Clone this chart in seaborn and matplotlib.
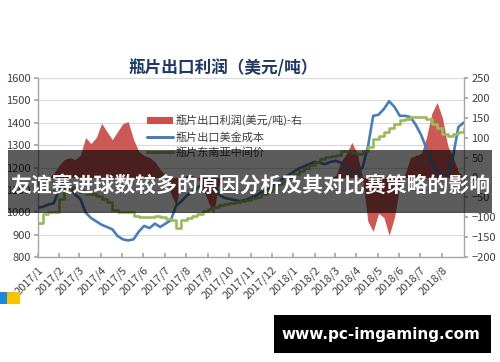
import numpy as np
import pandas as pd
import matplotlib
matplotlib.use("Agg")
import matplotlib.pyplot as plt
from matplotlib.patches import Rectangle, Patch
from matplotlib.lines import Line2D
import seaborn as sns

# ---------------- data ----------------
dates = pd.date_range("2017-01-01", "2018-09-01", periods=81)

cost_usd = [1020, 1025, 1035, 1040, 1100, 1136, 1120, 1080, 1060, 1000,
            975, 960, 945, 935, 925, 895, 880, 875, 880, 915,
            940, 930, 950, 935, 950, 965, 1030, 1050, 1075, 1090,
            1110, 1125, 1140, 1134, 1080, 1065, 1060, 1055, 1050, 1055,
            1065, 1075, 1090, 1100, 1115, 1130, 1150, 1165, 1180, 1195,
            1205, 1215, 1225, 1220, 1215, 1225, 1230, 1220, 1185, 1175,
            1180, 1200, 1290, 1430, 1435, 1460, 1495, 1470, 1430, 1430,
            1425, 1390, 1345, 1285, 1220, 1180, 1150, 1170, 1250, 1380, 1400]

sea_price = [955, 995, 1000, 1000, 1060, 1110, 1115, 1100, 1090, 1080,
             1080, 1075, 1060, 1045, 1010, 1000, 1000, 1000, 985, 978,
             978, 980, 985, 980, 970, 965, 930, 965, 975, 985,
             995, 1005, 1015, 1025, 1032, 1038, 1042, 1045, 1050, 1055,
             1062, 1068, 1080, 1095, 1110, 1125, 1140, 1155, 1170, 1185,
             1200, 1212, 1225, 1240, 1245, 1250, 1255, 1275, 1275, 1265,
             1260, 1275, 1290, 1325, 1340, 1357, 1375, 1395, 1410, 1418,
             1424, 1424, 1424, 1415, 1395, 1375, 1350, 1340, 1350, 1357, 1375]

profit = [0, 0, 0, 10, 30, 45, 50, 45, 55, 100,
          85, 100, 136, 115, 95, 115, 135, 140, 95, 65,
          55, 50, 40, 20, 5, -40, -70, 0, 5, 5,
          0, -25, -60, -90, -20, 0, 0, 0, 0, 0,
          0, 0, 0, 0, 0, 0, 0, 0, 0, 0,
          0, 0, 0, 0, 0, 0, 5, 40, 60, 88,
          60, 0, -110, -135, -90, -100, -145, -100, -20, 10,
          50, 55, 60, 100, 160, 188, 150, 80, 50, 15, 0]

month_ticks = pd.date_range("2017-01-01", "2018-08-01", freq="MS")
month_labels = ["2017/1", "2017/2", "2017/3", "2017/4", "2017/5", "2017/6",
                "2017/7", "2017/8", "2017/9", "2017/10", "2017/11", "2017/12",
                "2018/1", "2018/2", "2018/3", "2018/4", "2018/5", "2018/6",
                "2018/7", "2018/8"]

title = "瓶片出口利润（美元/吨）"
legend_labels = ["瓶片出口利润(美元/吨)-右", "瓶片出口美金成本", "瓶片东南亚中间价"]
banner_text = "友谊赛进球数较多的原因分析及其对比赛策略的影响"
watermark = "www.pc-imgaming.com"

df = pd.DataFrame({"date": dates, "cost": cost_usd, "sea": sea_price, "profit": profit})

# ---------------- style ----------------
sns.set_theme(style="white")
plt.rcParams["font.family"] = ["Noto Sans CJK SC", "DejaVu Sans"]

RED = "#C9504D"
BLUE = "#4A7EBB"
GREEN = "#9BBB59"
GRID = "#D9D9D9"
SPINE = "#A6A6A6"
TXT = "#404040"

fig = plt.figure(figsize=(5, 3.62), dpi=100)
fig.patch.set_facecolor("white")
W, H = 500.0, 362.0

ax = fig.add_axes([37.7 / W, 1 - 257.3 / H, 426 / W, 179.6 / H])
ax2 = ax.twinx()   # red area, right axis
ax3 = ax.twinx()   # lines, left scale

# left axis & grid
ax.set_ylim(800, 1600)
ax.set_yticks(np.arange(800, 1601, 100))
ax.yaxis.grid(True, color=GRID, lw=0.8)
ax.set_axisbelow(True)
ax.set_xlim(dates[0], dates[-1])

# red profit area
ax2.fill_between(df["date"], 0, df["profit"], color=RED, lw=0, alpha=0.95)
ax2.set_ylim(-200, 250)
ax2.set_yticks(np.arange(-200, 251, 50))

# lines
sns.lineplot(data=df, x="date", y="cost", ax=ax3, color=BLUE, lw=1.9, legend=False)
sns.lineplot(data=df, x="date", y="sea", ax=ax3, color=GREEN, lw=1.9, legend=False,
             drawstyle="steps-post")
ax3.set_ylim(800, 1600)
ax3.set_xlim(dates[0], dates[-1])
ax3.set_yticks([])
ax3.set_xlabel("")
ax3.set_ylabel("")

for a in (ax, ax2, ax3):
    for s in a.spines.values():
        s.set_visible(False)
ax.spines["left"].set_visible(True)
ax.spines["bottom"].set_visible(True)
ax2.spines["right"].set_visible(True)
for s in (ax.spines["left"], ax.spines["bottom"], ax2.spines["right"]):
    s.set_color(SPINE)
    s.set_linewidth(1.0)

ax.set_xticks(month_ticks)
ax.set_xticklabels(month_labels, rotation=45, ha="right", rotation_mode="anchor")
ax.tick_params(axis="x", direction="in", length=3, color=SPINE, labelsize=8,
               labelcolor=TXT, pad=5, bottom=True)
ax.tick_params(axis="y", direction="out", length=3, color=SPINE, labelsize=8,
               labelcolor=TXT, pad=2, left=True)
ax2.tick_params(axis="y", direction="out", length=3, color=SPINE, labelsize=8,
                labelcolor=TXT, pad=2.5, right=True)
ax.set_xlabel("")
ax.set_ylabel("")
ax2.set_ylabel("")

fig.text(223 / W, 1 - 68 / H, title, ha="center", va="center", fontsize=12,
         fontweight="bold", color="#1F3864")

handles = [Patch(facecolor=RED, edgecolor="none"),
           Line2D([], [], color=BLUE, lw=2.2),
           Line2D([], [], color=GREEN, lw=2.2)]
fig.legend(handles, legend_labels, loc="upper left",
           bbox_to_anchor=(147 / W, 1 - 115 / H), frameon=False, fontsize=8,
           handlelength=2.3, handleheight=0.6, handletextpad=0.3,
           labelspacing=0.42, borderpad=0, borderaxespad=0, labelcolor=TXT)

# overlay banner
fig.patches.append(Rectangle((8 / W, 1 - 213 / H), 484 / W, 63 / H,
                             transform=fig.transFigure, facecolor="black",
                             alpha=0.64, lw=0, zorder=10))
fig.text(250.5 / W, 1 - 185 / H, banner_text, ha="center", va="center",
         fontsize=15, fontweight="bold", color="white", zorder=11)

# watermark
fig.patches.append(Rectangle((274 / W, 1 - 353 / H), 217 / W, 38 / H,
                             transform=fig.transFigure, facecolor="black",
                             lw=0, zorder=10))
fig.text(381 / W, 1 - 335 / H, watermark, ha="center", va="center",
         fontsize=11, fontweight="bold", color="white", zorder=11,
         family="DejaVu Sans")

# small logo at bottom-left
fig.patches.append(Rectangle((0, 1 - 304 / H), 7 / W, 12 / H, transform=fig.transFigure,
                             facecolor="#1E88D8", lw=0, zorder=10))
fig.patches.append(Rectangle((7 / W, 1 - 304 / H), 13 / W, 12 / H, transform=fig.transFigure,
                             facecolor="#F5C400", lw=0, zorder=10))

fig.savefig("out.png", dpi=100)
